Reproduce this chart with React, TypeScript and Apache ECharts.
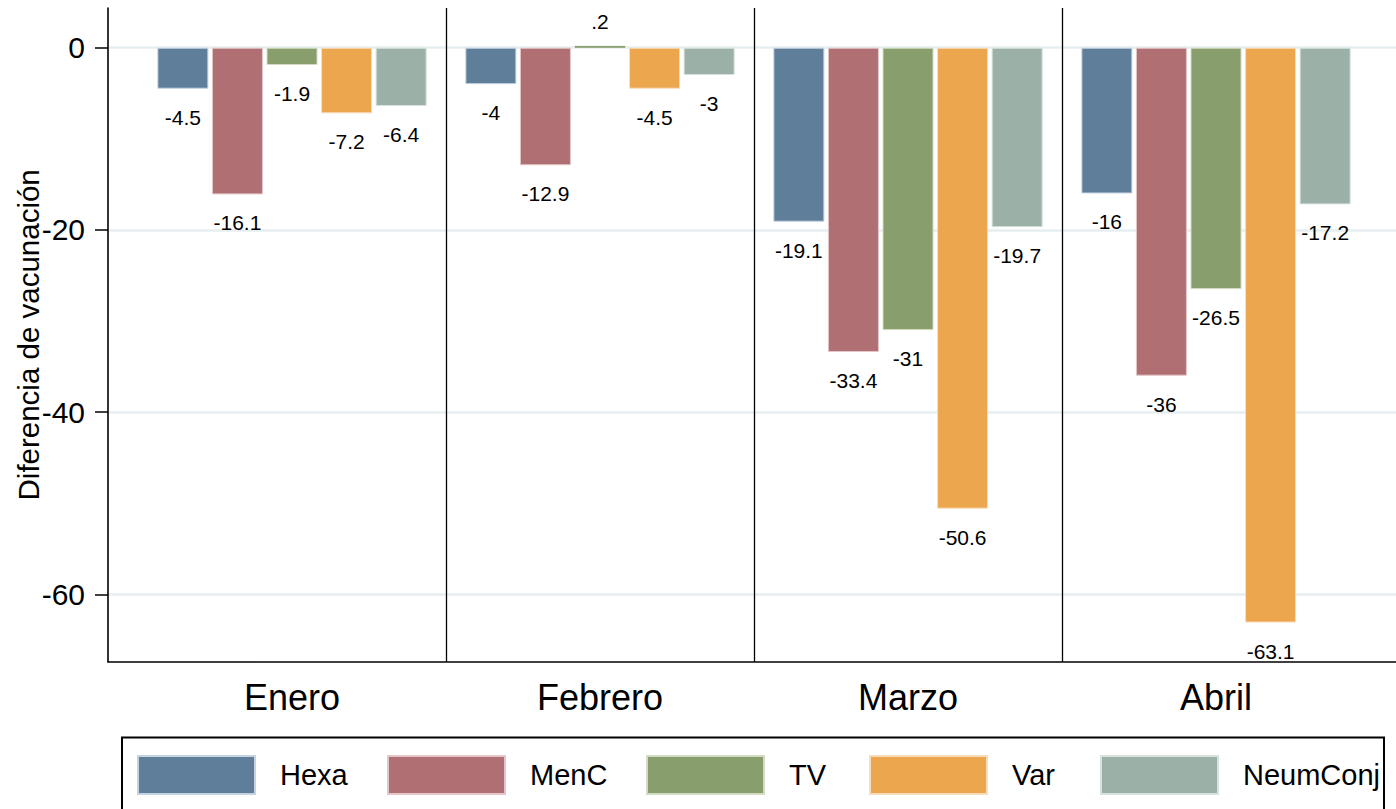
import React, { useEffect, useRef } from "react";
import * as echarts from "echarts";

const months = ["Enero", "Febrero", "Marzo", "Abril"];
const seriesNames = ["Hexa", "MenC", "TV", "Var", "NeumConj"];
const hexa = [-4.5, -4, -19.1, -16];
const menC = [-16.1, -12.9, -33.4, -36];
const tv = [-1.9, 0.2, -31, -26.5];
const varV = [-7.2, -4.5, -50.6, -63.1];
const neumConj = [-6.4, -3, -19.7, -17.2];
const yTicks = { min: -60, max: 0, step: 20 };
const yRange = { min: -67.4, max: 4.36 };

const colors = ["#5f7e99", "#b07073", "#889e6c", "#eca64e", "#9bb0a7"];
const borders = ["#c5d3e0", "#e3c6c7", "#d3dbc4", "#f8ddbb", "#d8e2dd"];
const legendLefts = [137, 387, 646, 869, 1100];

const FONT = "'Liberation Sans', Arial, Helvetica, sans-serif";

function fmt(v: number): string {
  return String(v).replace(/^(-?)0\./, "$1.");
}

export default function App() {
  const ref = useRef<HTMLDivElement>(null);
  useEffect(() => {
    document.body.style.margin = "0";
    if (!ref.current) return;
    const chart = echarts.init(ref.current, undefined, { renderer: "svg" });
    const allData = [hexa, menC, tv, varV, neumConj];
    const series = allData.map((arr, i) => ({
      name: seriesNames[i],
      type: "bar",
      xAxisIndex: 2,
      yAxisIndex: 2,
      barWidth: 51,
      barGap: "7%",
      itemStyle: { color: colors[i], borderColor: borders[i], borderWidth: 1 },
      label: {
        show: true,
        position: "bottom",
        distance: 18,
        fontSize: 21,
        color: "#000",
        fontFamily: FONT,
        formatter: (p: any) => fmt(p.value),
      },
      data: arr.map((v) =>
        v >= 0
          ? { value: v, itemStyle: { borderColor: colors[i] }, label: { position: "top", distance: 14 } }
          : v
      ),
    }));
    chart.setOption({
      animation: false,
      backgroundColor: "#fff",
      textStyle: { fontFamily: FONT },
      grid: [
        { left: 108, top: 8, right: -30, bottom: 147.3 },
        { left: 108, top: 47.7, right: -30, bottom: 214.7 },
        { left: 138, top: 8, right: 26, bottom: 147.3 },
      ],
      xAxis: [
        {
          gridIndex: 0,
          type: "category",
          data: months,
          axisLine: { show: true, onZero: false, lineStyle: { color: "#000", width: 1.6 } },
          axisTick: { show: false },
          axisLabel: { show: false },
          splitLine: { show: false },
        },
        {
          gridIndex: 1,
          type: "category",
          data: months,
          show: false,
        },
        {
          gridIndex: 2,
          type: "category",
          data: months,
          axisLine: { show: false, onZero: false },
          axisTick: { show: false },
          axisLabel: { fontSize: 36, margin: 18, color: "#000", fontFamily: FONT },
          splitLine: {
            show: true,
            showMinLine: false,
            showMaxLine: false,
            lineStyle: { color: "#000", width: 1.3 },
          },
        },
      ],
      yAxis: [
        {
          gridIndex: 0,
          type: "value",
          min: yRange.min,
          max: yRange.max,
          axisLine: { show: true, lineStyle: { color: "#000", width: 1.6 } },
          axisTick: { show: false },
          axisLabel: { show: false },
          splitLine: { show: false },
          name: "Diferencia de vacunación",
          nameLocation: "middle",
          nameGap: 65,
          nameTextStyle: { fontSize: 29.5, color: "#000", fontFamily: FONT },
        },
        {
          gridIndex: 1,
          type: "value",
          min: yTicks.min,
          max: yTicks.max,
          interval: yTicks.step,
          axisLine: { show: false },
          axisTick: { show: true, length: 13, lineStyle: { color: "#000", width: 1.5 } },
          axisLabel: { fontSize: 30, margin: 23, color: "#000", fontFamily: FONT },
          splitLine: { show: true, lineStyle: { color: "#e7eef0", width: 2.5 } },
        },
        {
          gridIndex: 2,
          type: "value",
          min: yRange.min,
          max: yRange.max,
          show: false,
        },
      ],
      legend: seriesNames.map((n, i) => ({
        data: [n],
        left: legendLefts[i],
        top: 755,
        padding: 0,
        itemWidth: 117,
        itemHeight: 38,
        itemGap: 0,
        icon: "rect",
        selectedMode: false,
        textStyle: { fontSize: 29, color: "#000", fontFamily: FONT, padding: [0, 0, 0, 20] },
      })),
      graphic: [
        {
          type: "rect",
          shape: { x: 122, y: 737.5, width: 1262, height: 120 },
          style: { fill: "none", stroke: "#000", lineWidth: 2 },
          silent: true,
        },
      ],
      series,
    });
    return () => chart.dispose();
  }, []);
  return <div ref={ref} style={{ width: 1396, height: 809 }} />;
}
